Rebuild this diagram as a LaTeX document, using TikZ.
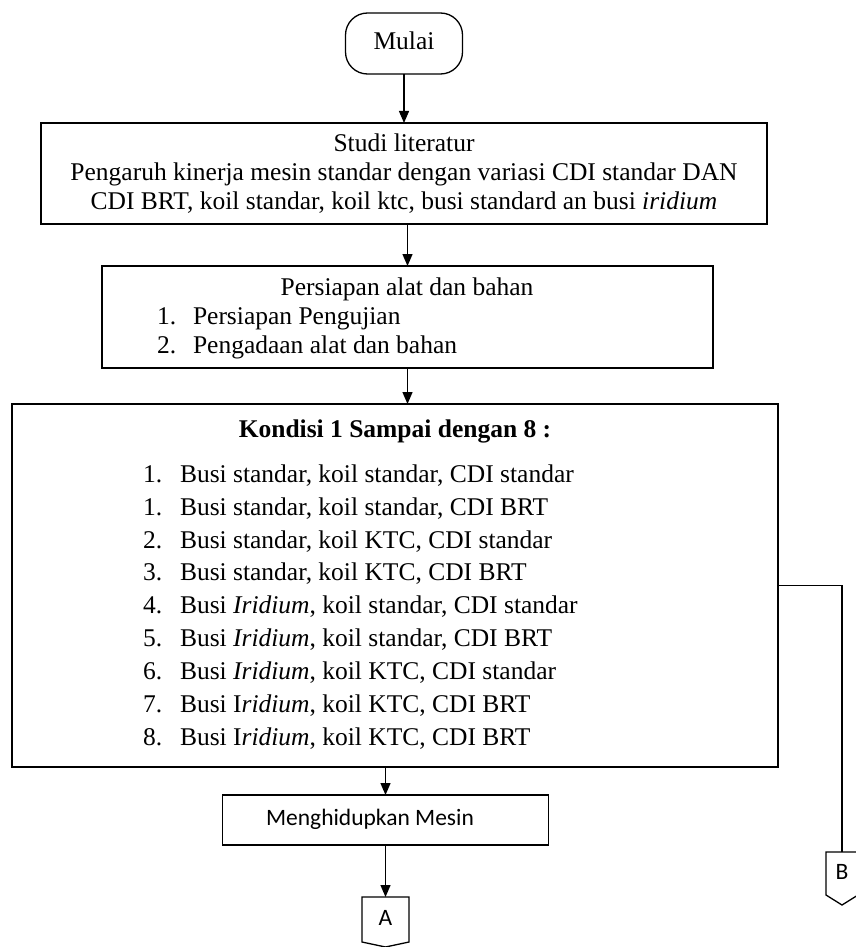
\documentclass[tikz,border=0pt]{standalone}
\usepackage{fontspec}
\setmainfont{Liberation Serif}
\newfontfamily\calibfont{Carlito}
\usetikzlibrary{arrows.meta,calc}
\begin{document}
\begin{tikzpicture}[x=1pt,y=-1pt,
  every node/.style={inner sep=0pt, outer sep=0pt},
  box/.style={draw, line width=1.3pt, rectangle},
  body/.style={font=\fontsize{25.5}{29}\selectfont},
  oneline/.style={body, text height=18pt, text depth=5.5pt},
  sans/.style={font=\calibfont\fontsize{23.5}{27}\selectfont, text height=16pt, text depth=4.5pt},
  arr/.style={line width=1.3pt, -{Triangle[length=12pt,width=10pt]}},
  link/.style={line width=1.3pt},
  connector/.style={draw, line width=1.3pt}]
\useasboundingbox (0,0) rectangle (855,947);

% start terminal
\node[box, rounded corners=22pt, minimum width=117pt, minimum height=61pt] (mulai) at (404,43.5) {};
\node[oneline] (mulaitxt) at (mulai) {Mulai};

% literature study
\node[box, minimum width=726pt, minimum height=101pt] (studi) at (404,173.5) {};
\node[body, align=center] (studitxt) at (404,174) {Studi literatur\\
Pengaruh kinerja mesin standar dengan variasi CDI standar DAN\\
CDI BRT, koil standar, koil ktc, busi standard an busi \textit{iridium}};

% preparation
\node[box, minimum width=611pt, minimum height=102pt] (persiapan) at (407.5,317) {};
\node[oneline] (persT) at (407,289) {Persiapan alat dan bahan};
\node[oneline, anchor=west] (persN1) at (157,318) {1.};
\node[oneline, anchor=west] (persI1) at (193,318) {Persiapan Pengujian};
\node[oneline, anchor=west] (persN2) at (157,347) {2.};
\node[oneline, anchor=west] (persI2) at (193,347) {Pengadaan alat dan bahan};

% test conditions
\node[box, minimum width=766pt, minimum height=363pt] (kondisi) at (395,585.5) {};
\node[oneline] (kondT) at (395,431) {\textbf{Kondisi 1 Sampai dengan 8 :}};
\foreach \n/\num/\item [count=\i] in {
  1/1/{Busi standar, koil standar, CDI standar},
  2/1/{Busi standar, koil standar, CDI BRT},
  3/2/{Busi standar, koil KTC, CDI standar},
  4/3/{Busi standar, koil KTC, CDI BRT},
  5/4/{Busi \textit{Iridium}, koil standar, CDI standar},
  6/5/{Busi \textit{Iridium}, koil standar, CDI BRT},
  7/6/{Busi \textit{Iridium}, koil KTC, CDI standar},
  8/7/{Busi I\textit{ridium}, koil KTC, CDI BRT},
  9/8/{Busi I\textit{ridium}, koil KTC, CDI BRT}}{
  \node[oneline, anchor=west] (kN\n) at (143,{476+32.9*(\i-1)}) {\num.};
  \node[oneline, anchor=west] (kI\n) at (180,{476+32.9*(\i-1)}) {\item};
}

% engine start
\node[box, minimum width=326pt, minimum height=50pt] (mesin) at (385.5,820) {};
\node[sans] (mesintxt) at (370,820) {Menghidupkan Mesin};

% off-page connectors
\node[minimum width=47pt, minimum height=45pt] (A) at (385.5,919.5) {};
\node[sans] (Atxt) at (A) {A};
\draw[connector] (A.north west) -- (A.north east) -- (A.south east)
  -- ($(A.south)+(0,5)$) -- (A.south west) -- cycle;
\node[minimum width=32pt, minimum height=43pt] (B) at (842,873.5) {};
\node[sans] (Btxt) at (B) {B};
\draw[connector] (B.north west) -- (B.north east) -- (B.south east)
  -- ($(B.south)+(0,10)$) -- (B.south west) -- cycle;

% flow
\draw[arr] (mulai) -- (studi);
\draw[arr] (studi.south -| persiapan.north) -- (persiapan.north);
\draw[arr] (persiapan.south) -- (persiapan.south |- kondisi.north);
\draw[arr] (kondisi.south -| mesin.north) -- (mesin.north);
\draw[arr] (mesin.south) -- (A.north);
\draw[link] (kondisi.east) -| (B.north);
\end{tikzpicture}
\end{document}
